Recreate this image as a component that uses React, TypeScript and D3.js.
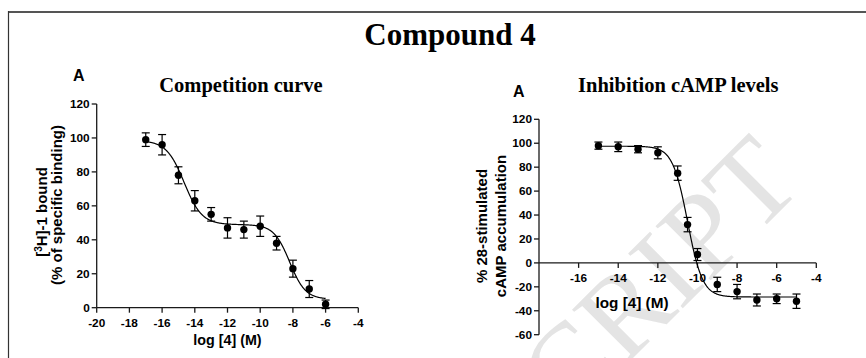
import React from 'react';
import * as d3 from 'd3';

// ---- Data: competition curve (left) ----
const compX = [-17, -16, -15, -14, -13, -12, -11, -10, -9, -8, -7, -6];
const compY = [99, 96, 78, 63, 55, 47, 46, 48, 38, 23, 11, 2];
const compErr = [4, 6, 5, 6, 4, 6, 5, 6, 4, 5, 5, 2.5];
const compXTicks = [-20, -18, -16, -14, -12, -10, -8, -6, -4];
const compYTicks = [0, 20, 40, 60, 80, 100, 120];
// two-site fit parameters
const compFitTop = 98.5;
const compFitBottom = 5;
const compFitFrac = 0.53;
const compFitLogIC = [-14.65, -8.2];
const compFitHill = [0.8, 0.9];
const compFitRange = [-17, -6];

// ---- Data: inhibition cAMP (right) ----
const campX = [-15, -14, -13, -12, -11, -10.5, -10, -9, -8, -7, -6, -5];
const campY = [98, 97, 95, 92, 75, 32, 7, -18, -24, -31, -30, -32];
const campErr = [3, 4, 3, 5, 6, 6, 5, 6, 6, 5, 4, 6];
const campXTicks = [-16, -14, -12, -10, -8, -6, -4];
const campYTicks = [-60, -40, -20, 0, 20, 40, 60, 80, 100, 120];
const campFitTop = 97.5;
const campFitBottom = -28.5;
const campFitLogIC = -10.5;
const campFitHill = 1.15;
const campFitRange = [-15, -5];

const W = 866;
const H = 358;
const SANS = '"Liberation Sans", Arial, Helvetica, sans-serif';
const SERIF = '"Liberation Serif", "Times New Roman", Times, serif';
const AX = '#1a1a1a';

function twoSite(x: number) {
  const a = compFitFrac / (1 + Math.pow(10, compFitHill[0] * (x - compFitLogIC[0])));
  const b = (1 - compFitFrac) / (1 + Math.pow(10, compFitHill[1] * (x - compFitLogIC[1])));
  return compFitBottom + (compFitTop - compFitBottom) * (a + b);
}
function oneSite(x: number) {
  return campFitBottom + (campFitTop - campFitBottom) / (1 + Math.pow(10, campFitHill * (x - campFitLogIC)));
}

function Points({ xs, ys, es, x, y }: any) {
  return (
    <g>
      {xs.map((v: number, i: number) => {
        const cx = x(v);
        const top = y(ys[i] + es[i]);
        const bot = y(ys[i] - es[i]);
        return (
          <g key={i}>
            <line x1={cx} x2={cx} y1={top} y2={bot} stroke="#000" strokeWidth={1.2} />
            <line x1={cx - 4} x2={cx + 4} y1={top} y2={top} stroke="#000" strokeWidth={1.2} />
            <line x1={cx - 4} x2={cx + 4} y1={bot} y2={bot} stroke="#000" strokeWidth={1.2} />
            <circle cx={cx} cy={y(ys[i])} r={3.7} fill="#000" />
          </g>
        );
      })}
    </g>
  );
}

export default function App() {
  const xL = d3.scaleLinear().domain([-20, -4]).range([96.7, 358.3]);
  const yL = d3.scaleLinear().domain([0, 120]).range([307.7, 104]);
  const xR = d3.scaleLinear().domain([-18, -4]).range([539, 816.3]);
  const yR = d3.scaleLinear().domain([-60, 120]).range([334.7, 119.3]);

  const line = (fx: any, fy: any, f: (v: number) => number, r: number[]) =>
    d3.line<number>().x((d) => fx(d)).y((d) => fy(f(d)))(d3.range(r[0], r[1] + 0.001, 0.02)) || '';

  const leftCurve = line(xL, yL, twoSite, compFitRange);
  const rightCurve = line(xR, yR, oneSite, campFitRange);

  return (
    <svg width={W} height={H} style={{ position: 'absolute', left: 0, top: 0, background: '#fff' }}>
      <rect x={0} y={0} width={W} height={H} fill="#fff" />
      {/* watermark */}
      <text
        x={805}
        y={186}
        transform="rotate(-45 805 186)"
        textAnchor="end"
        fontFamily={SERIF}
        fontSize={118}
        fill="#e4e4e4"
      >
        ACCEPTED MANUSCRIPT
      </text>
      {/* frame */}
      <line x1={8} x2={W} y1={12} y2={12} stroke="#555" strokeWidth={2} />
      <line x1={8.5} x2={8.5} y1={11} y2={H} stroke="#333" strokeWidth={1.2} />

      {/* titles */}
      <text x={450} y={45} textAnchor="middle" fontFamily={SERIF} fontWeight="bold" fontSize={31} fill="#000">
        Compound 4
      </text>
      <text x={241} y={92.3} textAnchor="middle" fontFamily={SERIF} fontWeight="bold" fontSize={20.5} fill="#000">
        Competition curve
      </text>
      <text x={678.3} y={92.3} textAnchor="middle" fontFamily={SERIF} fontWeight="bold" fontSize={20.5} fill="#000">
        Inhibition cAMP levels
      </text>
      <text x={78.8} y={81} textAnchor="middle" fontFamily={SANS} fontWeight="bold" fontSize={16} fill="#000">
        A
      </text>
      <text x={518.7} y={96.7} textAnchor="middle" fontFamily={SANS} fontWeight="bold" fontSize={16} fill="#000">
        A
      </text>

      {/* ---- left chart ---- */}
      <g fontFamily={SANS} fontWeight="bold" fontSize={11.8} fill="#000">
        <line x1={xL(-20)} x2={xL(-20)} y1={yL(120)} y2={yL(0)} stroke={AX} strokeWidth={1.3} />
        <line x1={xL(-20)} x2={xL(-4)} y1={yL(0)} y2={yL(0)} stroke={AX} strokeWidth={1.3} />
        {compYTicks.map((t) => (
          <g key={'ly' + t}>
            <line x1={xL(-20) - 5} x2={xL(-20)} y1={yL(t)} y2={yL(t)} stroke={AX} strokeWidth={1.3} />
            <text x={xL(-20) - 7} y={yL(t) + 4} textAnchor="end">
              {t}
            </text>
          </g>
        ))}
        {compXTicks.map((t) => (
          <g key={'lx' + t}>
            <line x1={xL(t)} x2={xL(t)} y1={yL(0)} y2={yL(0) + 5} stroke={AX} strokeWidth={1.3} />
            <text x={xL(t)} y={yL(0) + 19.5} textAnchor="middle">
              {t}
            </text>
          </g>
        ))}
      </g>
      <text x={227.5} y={345} textAnchor="middle" fontFamily={SANS} fontWeight="bold" fontSize={14.3} fill="#000">
        log [4] (M)
      </text>
      <g fontFamily={SANS} fontWeight="bold" fontSize={15} fill="#000">
        <text transform="translate(46.5,212) rotate(-90)" textAnchor="middle">
          [<tspan fontSize={10} dy={-5}>3</tspan>
          <tspan dy={5}>H]-1 bound</tspan>
        </text>
        <text transform="translate(61.5,205) rotate(-90)" textAnchor="middle">
          (% of specific binding)
        </text>
      </g>
      <path d={leftCurve} fill="none" stroke="#000" strokeWidth={1.2} />
      <Points xs={compX} ys={compY} es={compErr} x={xL} y={yL} />

      {/* ---- right chart ---- */}
      <g fontFamily={SANS} fontWeight="bold" fontSize={11.8} fill="#000">
        <line x1={xR(-18)} x2={xR(-18)} y1={yR(120)} y2={yR(-60)} stroke={AX} strokeWidth={1.3} />
        <line x1={xR(-18)} x2={xR(-4)} y1={yR(0)} y2={yR(0)} stroke={AX} strokeWidth={1.3} />
        {campYTicks.map((t) => (
          <g key={'ry' + t}>
            <line x1={xR(-18) - 5} x2={xR(-18)} y1={yR(t)} y2={yR(t)} stroke={AX} strokeWidth={1.3} />
            <text x={xR(-18) - 7} y={yR(t) + 4} textAnchor="end">
              {t}
            </text>
          </g>
        ))}
        {campXTicks.map((t) => (
          <g key={'rx' + t}>
            <line x1={xR(t)} x2={xR(t)} y1={yR(0)} y2={yR(0) + 5} stroke={AX} strokeWidth={1.3} />
            <text x={xR(t)} y={yR(0) + 19.5} textAnchor="middle">
              {t}
            </text>
          </g>
        ))}
      </g>
      <text x={632} y={308.3} textAnchor="middle" fontFamily={SANS} fontWeight="bold" fontSize={15.3} fill="#000">
        log [4] (M)
      </text>
      <g fontFamily={SANS} fontWeight="bold" fontSize={15} fill="#000">
        <text transform="translate(487,226) rotate(-90)" textAnchor="middle">
          % 28-stimulated
        </text>
        <text transform="translate(506,226) rotate(-90)" textAnchor="middle">
          cAMP accumulation
        </text>
      </g>
      <path d={rightCurve} fill="none" stroke="#000" strokeWidth={1.2} />
      <Points xs={campX} ys={campY} es={campErr} x={xR} y={yR} />
    </svg>
  );
}
